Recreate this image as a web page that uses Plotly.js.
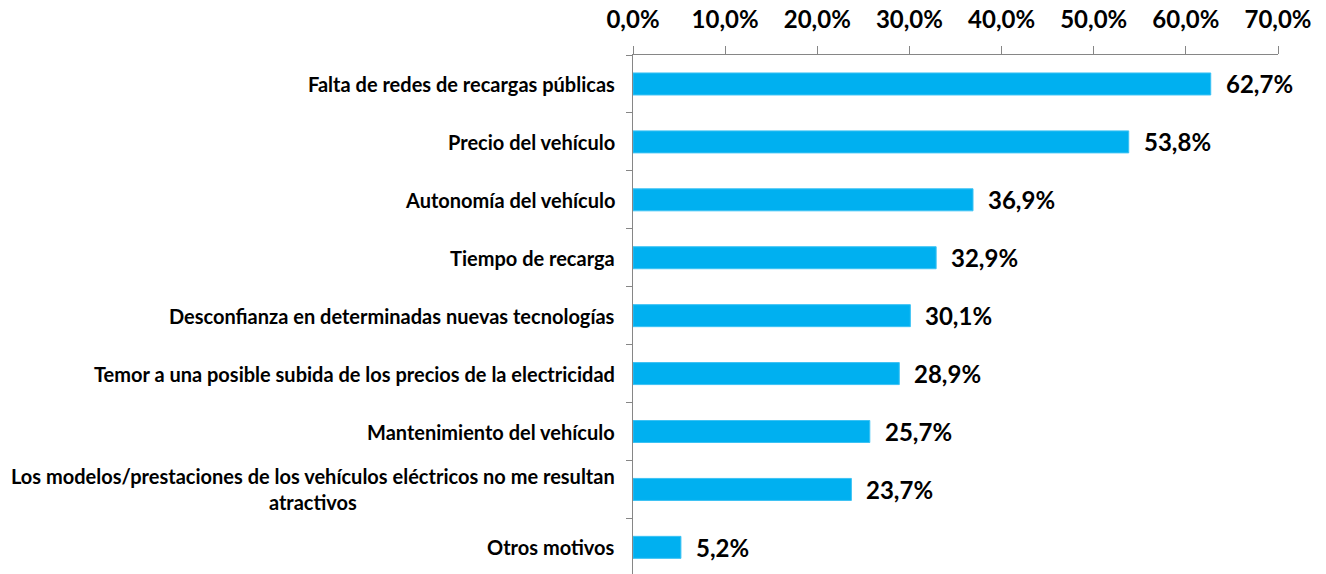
<!DOCTYPE html>
<html>
<head>
<meta charset="utf-8">
<script src="https://cdn.plot.ly/plotly-3.0.1.min.js"></script>
<style>
html,body{margin:0;padding:0;background:#fff;}
#chart{width:1326px;height:574px;}
</style>
</head>
<body>
<div id="chart"></div>
<script>
const categories = [
  "Falta de redes de recargas públicas",
  "Precio del vehículo",
  "Autonomía del vehículo",
  "Tiempo de recarga",
  "Desconfianza en determinadas nuevas tecnologías",
  "Temor a una posible subida de los precios de la electricidad",
  "Mantenimiento del vehículo",
  "Los modelos/prestaciones de los vehículos eléctricos no me resultan<br>atractivos",
  "Otros motivos"
];
const values = [62.7, 53.8, 36.9, 32.9, 30.1, 28.9, 25.7, 23.7, 5.2];
const tickValues = [0, 10, 20, 30, 40, 50, 60, 70];
const tickLabels = ["0,0%", "10,0%", "20,0%", "30,0%", "40,0%", "50,0%", "60,0%", "70,0%"];

const FONT = "Lato, 'Open Sans', 'Liberation Sans', sans-serif";
const fmt = v => v.toFixed(1).replace('.', ',') + '%';

const annotations = [];
categories.forEach((c, i) => {
  annotations.push({
    xref: 'paper', yref: 'y', x: 0, y: c,
    text: '<b>' + c + '</b>', showarrow: false,
    xanchor: 'right', yanchor: 'middle', align: 'center',
    xshift: -16,
    font: {family: FONT, size: 20, color: '#000'}
  });
  annotations.push({
    xref: 'x', yref: 'y', x: values[i], y: c,
    text: '<b>' + fmt(values[i]) + '</b>', showarrow: false,
    xanchor: 'left', yanchor: 'middle', xshift: 13,
    font: {family: FONT, size: 24, color: '#000'}
  });
});

const trace = {
  type: 'bar', orientation: 'h',
  x: values, y: categories,
  marker: {color: '#00B0F0', line: {color: '#3CC2F4', width: 1}},
  hoverinfo: 'none'
};

const layout = {
  width: 1326, height: 574,
  margin: {l: 633, r: 48, t: 55, b: 0, pad: 0},
  paper_bgcolor: '#fff', plot_bgcolor: '#fff',
  bargap: 0.62,
  showlegend: false,
  font: {family: FONT, color: '#000'},
  xaxis: {
    side: 'top', range: [0, 70],
    tickmode: 'array', tickvals: tickValues,
    ticktext: tickLabels.map(t => '<b>' + t + '</b>'),
    ticks: 'outside', ticklen: 8, tickwidth: 1, tickcolor: '#868686',
    showline: true, linecolor: '#868686', linewidth: 1,
    showgrid: false, zeroline: false,
    tickfont: {family: FONT, size: 24, color: '#000'},
    ticklabelstandoff: 8
  },
  yaxis: {
    type: 'category', range: [8.46, -0.5],
    showticklabels: false,
    ticks: 'outside', tickson: 'boundaries', ticklen: 6, tickwidth: 1, tickcolor: '#868686',
    showline: true, linecolor: '#868686', linewidth: 1,
    showgrid: false, zeroline: false
  },
  annotations: annotations
};

Plotly.newPlot('chart', [trace], layout, {displayModeBar: false, staticPlot: true});
</script>
</body>
</html>
